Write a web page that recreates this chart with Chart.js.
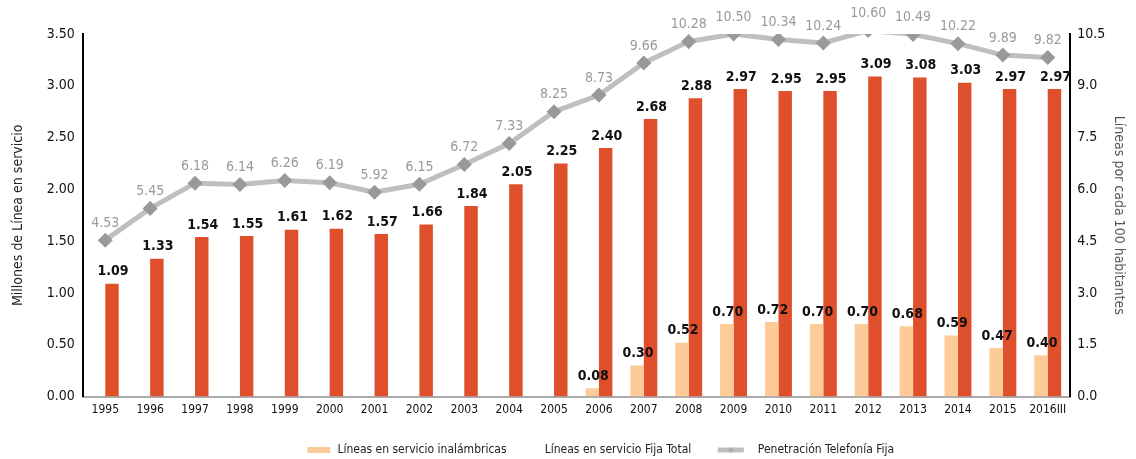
<!DOCTYPE html>
<html>
<head>
<meta charset="utf-8">
<script src="https://cdn.jsdelivr.net/npm/chart.js@4.4.1/dist/chart.umd.min.js"></script>
<style>
  html, body { margin: 0; padding: 0; background: #fff; }
  #wrap { width: 1136px; height: 459px; position: relative; }
</style>
</head>
<body>
<div id="wrap"><canvas id="myChart"></canvas></div>
<script>
const years = ["1995","1996","1997","1998","1999","2000","2001","2002","2003","2004","2005","2006","2007","2008","2009","2010","2011","2012","2013","2014","2015","2016III"];
const inalambricas = [null,null,null,null,null,null,null,null,null,null,null,0.08,0.30,0.52,0.70,0.72,0.70,0.70,0.68,0.59,0.47,0.40];
const fijaTotal = [1.09,1.33,1.54,1.55,1.61,1.62,1.57,1.66,1.84,2.05,2.25,2.40,2.68,2.88,2.97,2.95,2.95,3.09,3.08,3.03,2.97,2.97];
const penetracion = [4.53,5.45,6.18,6.14,6.26,6.19,5.92,6.15,6.72,7.33,8.25,8.73,9.66,10.28,10.50,10.34,10.24,10.60,10.49,10.22,9.89,9.82];

const FONT = "'Liberation Sans Narrow', 'DejaVu Sans Condensed', sans-serif";

// etiquetas de valores encima de barras y puntos
const valueLabels = {
    id: 'valueLabels',
    afterDatasetsDraw(chart) {
        const c = chart.ctx;
        c.save();
        c.textAlign = 'center';
        c.textBaseline = 'bottom';
        chart.data.datasets.forEach((ds, i) => {
            const meta = chart.getDatasetMeta(i);
            meta.data.forEach((el, j) => {
                const v = ds.data[j];
                if (v === null) return;
                if (ds.type === 'line') {
                    c.font = '14px ' + FONT;
                    c.fillStyle = '#9a9a9a';
                    c.fillText(v.toFixed(2), el.x, el.y - 10);
                } else {
                    c.font = 'bold 14px ' + FONT;
                    c.fillStyle = '#111';
                    c.fillText(v.toFixed(2), el.x + 1, el.y - 5);
                }
            });
        });
        c.restore();
    }
};

// leyenda dibujada a mano para colocarla como en el original
const customLegend = {
    id: 'customLegend',
    afterDraw(chart) {
        const c = chart.ctx;
        const y = 450;
        const items = chart.data.datasets;
        c.save();
        c.font = '12px ' + FONT;
        c.textBaseline = 'middle';
        c.textAlign = 'left';
        // inalámbricas
        const t1 = items[1].label;
        const x1 = 422 - c.measureText(t1).width / 2;
        c.fillStyle = '#fccb98';
        c.fillRect(x1 - 30, y - 3, 23, 6);
        c.fillStyle = '#222';
        c.fillText(t1, x1, y);
        // fija total (sin muestra)
        const t2 = items[2].label;
        c.fillText(t2, 618 - c.measureText(t2).width / 2, y);
        // penetración
        const t3 = items[0].label;
        const x3 = 826 - c.measureText(t3).width / 2;
        const sx = x3 - 40;
        c.strokeStyle = '#bfbfbf';
        c.lineWidth = 5;
        c.beginPath();
        c.moveTo(sx, y);
        c.lineTo(sx + 26, y);
        c.stroke();
        c.fillStyle = '#aaa';
        c.beginPath();
        c.moveTo(sx + 13, y - 3); c.lineTo(sx + 16, y); c.lineTo(sx + 13, y + 3); c.lineTo(sx + 10, y);
        c.closePath();
        c.fill();
        c.fillStyle = '#222';
        c.fillText(t3, x3, y);
        c.restore();
    }
};

const ctx = document.getElementById('myChart');
const myChart = new Chart(ctx, {
    data: {
        labels: years,
        datasets: [
            {
                type: 'line',
                label: 'Penetración Telefonía Fija',
                data: penetracion,
                yAxisID: 'y2',
                borderColor: '#bfbfbf',
                backgroundColor: '#bfbfbf',
                borderWidth: 5,
                pointStyle: 'rectRot',
                pointRadius: 4,
                pointBackgroundColor: '#999999',
                pointBorderColor: '#999999',
                tension: 0,
                order: 0
            },
            {
                type: 'bar',
                label: 'Líneas en servicio inalámbricas',
                data: inalambricas,
                yAxisID: 'y',
                backgroundColor: '#fccb98',
                categoryPercentage: 0.6,
                barPercentage: 1.0,
                order: 1
            },
            {
                type: 'bar',
                label: 'Líneas en servicio Fija Total',
                data: fijaTotal,
                yAxisID: 'y',
                backgroundColor: '#e04f2b',
                categoryPercentage: 0.6,
                barPercentage: 1.0,
                order: 2
            }
        ]
    },
    options: {
        responsive: true,
        maintainAspectRatio: false,
        animation: false,
        layout: { padding: { left: 10, right: 7, top: 34, bottom: 40 } },
        plugins: {
            tooltip: { enabled: false },
            legend: { display: false }
        },
        scales: {
            x: {
                grid: { display: false, drawTicks: true, tickLength: 4, color: '#999' },
                border: { color: '#aaa', width: 2 },
                ticks: { font: { family: FONT, size: 12 }, color: '#111', maxRotation: 0, autoSkip: false, padding: 2 }
            },
            y: {
                position: 'left',
                min: 0,
                max: 3.5,
                grid: { display: false, drawOnChartArea: false, tickLength: 4, color: '#000' },
                border: { color: '#000', width: 2 },
                ticks: {
                    stepSize: 0.5,
                    font: { family: FONT, size: 14 },
                    color: '#111',
                    padding: 4,
                    callback: v => v.toFixed(2)
                },
                title: { display: true, text: 'Millones de Línea en servicio', font: { family: FONT, size: 14 }, color: '#222', padding: { top: 0, bottom: 16 } }
            },
            y2: {
                position: 'right',
                min: 0,
                max: 10.5,
                grid: { display: false, drawOnChartArea: false, tickLength: 4, color: '#000' },
                border: { color: '#000', width: 2 },
                ticks: {
                    stepSize: 1.5,
                    font: { family: FONT, size: 14 },
                    color: '#111',
                    padding: 3,
                    callback: v => v.toFixed(1)
                },
                title: { display: true, text: 'Líneas por cada 100 habitantes', font: { family: FONT, size: 14 }, color: '#555', padding: { top: 2, bottom: 2 } }
            }
        }
    },
    plugins: [valueLabels, customLegend]
});
</script>
</body>
</html>
